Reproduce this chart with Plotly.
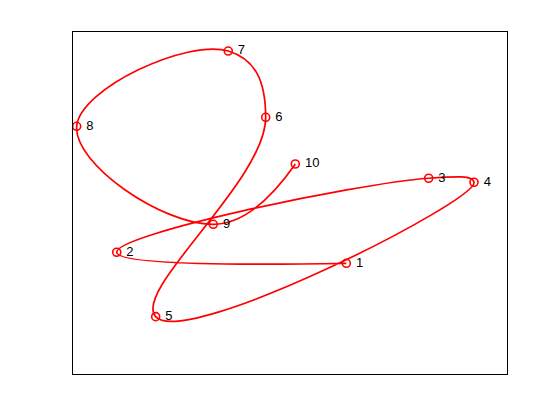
import plotly.graph_objects as go

# Data points (order defines the curve)
point_x = [0.519, -1.597, 1.278, 1.696, -1.238, -0.224, -0.569, -1.966, -0.707, 0.049]
point_y = [-0.529, -0.432, 0.217, 0.182, -0.997, 0.752, 1.333, 0.673, -0.187, 0.342]
point_labels = [" " + str(i) for i in range(1, 11)]

x_range = [-2, 2]
y_range = [-1.5, 1.5]

fig = go.Figure()

# smooth curve through the points
fig.add_trace(go.Scatter(
    x=point_x, y=point_y, mode="lines",
    line=dict(color="#ff0000", width=1.7, shape="spline", smoothing=1.3),
    hoverinfo="skip", showlegend=False,
))

# markers with labels
fig.add_trace(go.Scatter(
    x=point_x, y=point_y, mode="markers+text",
    marker=dict(symbol="circle-open", size=8, color="#ff0000", line=dict(width=1.6, color="#ff0000")),
    text=point_labels, textposition="middle right",
    textfont=dict(family="Liberation Sans, Arial, sans-serif", size=13, color="black"),
    showlegend=False,
))

axis_common = dict(showgrid=False, zeroline=False, showticklabels=False, ticks="",
                   showline=True, linecolor="black", linewidth=1, mirror=True)

fig.update_layout(
    width=560, height=420,
    margin=dict(l=65, r=61, t=24, b=54),
    paper_bgcolor="white", plot_bgcolor="white",
    xaxis=dict(range=x_range, **axis_common),
    yaxis=dict(range=y_range, **axis_common),
)

fig.write_html("out.html")
